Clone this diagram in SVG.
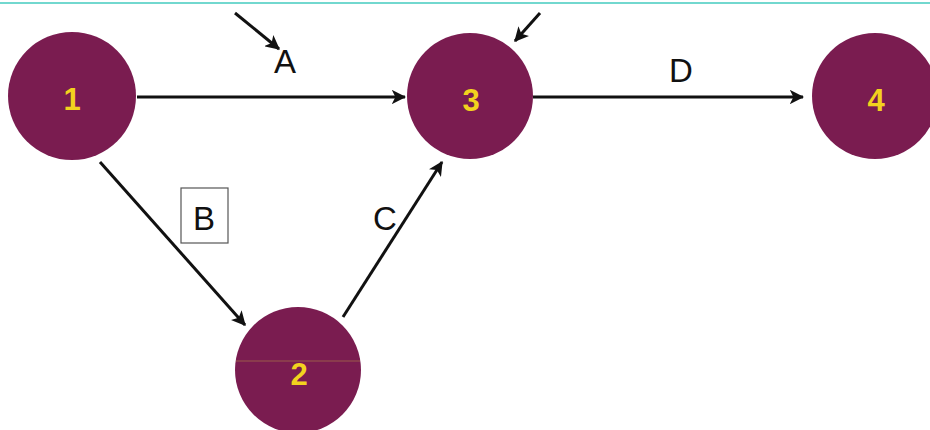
<svg xmlns="http://www.w3.org/2000/svg" width="930" height="430" viewBox="0 0 930 430">
<defs>
<style>
.node circle{fill:#7a1c50;}
.num{font-family:"Liberation Sans",Arial,sans-serif;font-weight:bold;font-size:31px;fill:#f2d21e;text-anchor:middle;}
.lbl{font-family:"Liberation Sans",Arial,sans-serif;font-size:33px;fill:#111;text-anchor:middle;}
.edge{stroke:#111;stroke-width:3;fill:none;marker-end:url(#ah);}
</style>
<marker id="ah" viewBox="0 0 12 12" refX="11" refY="6" markerWidth="4.8" markerHeight="4.8" orient="auto" markerUnits="strokeWidth">
<path d="M0,0 L12,6 L0,12 L3,6 Z" fill="#111"/>
</marker>
</defs>
<rect width="930" height="430" fill="#fff"/>
<line x1="0" y1="3" x2="930" y2="3" stroke="#72d8cf" stroke-width="2"/>
<g id="connectors">
<line class="edge" x1="137" y1="97" x2="405" y2="97"/>
<line class="edge" x1="533" y1="97" x2="803" y2="97"/>
<line class="edge" x1="100" y1="162" x2="245" y2="325"/>
<line class="edge" x1="343" y1="317" x2="442" y2="162"/>
<line class="edge" x1="235" y1="13" x2="279" y2="49"/>
<line class="edge" x1="540" y1="13" x2="515" y2="41"/>
</g>
<g id="labels">
<text class="lbl" x="285" y="73">A</text>
<text class="lbl" x="681" y="82">D</text>
<rect x="181" y="188" width="47" height="55" fill="none" stroke="#555" stroke-width="1.2"/>
<text class="lbl" x="204" y="230">B</text>
<text class="lbl" x="385" y="230">C</text>
</g>
<g id="node1" class="node"><circle cx="72" cy="96" r="64"/><text class="num" x="72" y="110">1</text></g>
<g id="node3" class="node"><circle cx="470" cy="96" r="63"/><text class="num" x="471" y="111">3</text></g>
<g id="node4" class="node"><circle cx="875" cy="96" r="63"/><text class="num" x="876" y="111">4</text></g>
<g id="node2" class="node"><circle cx="298" cy="370" r="63"/><line x1="236" y1="361" x2="360" y2="361" stroke="#9a5a4a" stroke-width="1"/><text class="num" x="299" y="385">2</text></g>
</svg>
